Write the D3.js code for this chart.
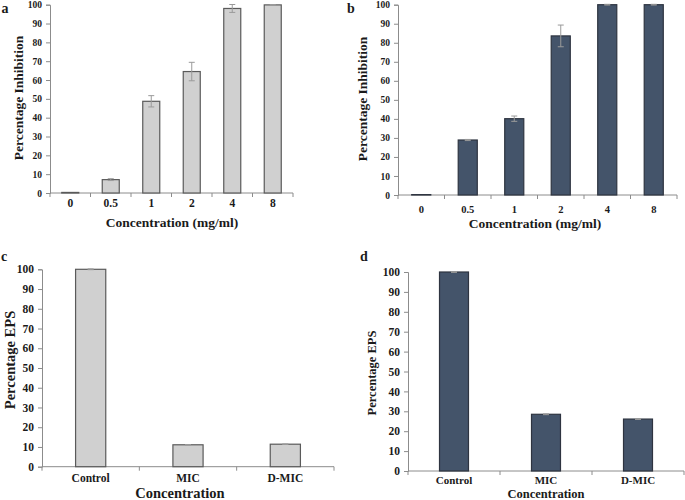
<!DOCTYPE html>
<html>
<head>
<meta charset="utf-8">
<script src="https://cdnjs.cloudflare.com/ajax/libs/d3/7.8.5/d3.min.js"></script>
<style>
  body { margin: 0; background: #fff; }
  text { font-family: "Liberation Serif", "Times New Roman", serif; font-weight: bold; fill: #1a1a1a; }
</style>
</head>
<body>
<div id="chart"></div>
<script>
// data
var concLabels = ["0", "0.5", "1", "2", "4", "8"];
var inhibA = [0.3, 7.1, 48.7, 64.5, 98, 99.9];
var inhibAErr = [0, 0.5, 3, 4.9, 2.1, 0.2];
var inhibB = [0.2, 28.9, 40.1, 83.6, 100, 100];
var inhibBErr = [0, 0.3, 1.4, 5.7, 0.2, 0.2];

var epsLabels = ["Control", "MIC", "D-MIC"];
var epsC = [100, 11.1, 11.4];
var epsCErr = [0.2, 0.1, 0.1];
var epsD = [100, 28.5, 26.1];
var epsDErr = [0.2, 0.2, 0.2];

var yTicks = [0, 10, 20, 30, 40, 50, 60, 70, 80, 90, 100];

var lightFill = "#d0d0d0", lightStroke = "#5a5a5a";
var darkFill = "#44546a", darkStroke = "#2e3440";
var axisColor = "#8c8c8c", errColor = "#9a9a9a";

var svg = d3.select("#chart").append("svg")
    .attr("width", 685)
    .attr("height", 500);

function drawPanel(p) {
  var g = svg.append("g");

  var x = d3.scaleBand()
      .domain(p.cats)
      .range([p.x0, p.x1])
      .paddingInner(p.pad)
      .paddingOuter(p.pad / 2);

  var y = d3.scaleLinear()
      .domain([0, 100])
      .range([p.y0, p.y1]);

  // y axis
  var yAxis = d3.axisLeft(y).tickValues(yTicks).tickSize(4).tickPadding(4);
  var ya = g.append("g")
      .attr("transform", "translate(" + p.x0 + ",0)")
      .call(yAxis);
  ya.select(".domain").attr("stroke", axisColor);
  ya.selectAll(".tick line").attr("stroke", axisColor);
  ya.selectAll(".tick text")
      .style("font-size", p.tickFont + "px")
      .attr("fill", "#1a1a1a");

  // x axis line + ticks at the category boundaries
  g.append("line")
      .attr("x1", p.x0).attr("x2", p.x1)
      .attr("y1", p.y0).attr("y2", p.y0)
      .attr("stroke", axisColor);
  var bounds = d3.range(p.cats.length + 1).map(function(i) { return p.x0 + i * x.step(); });
  g.selectAll(".btick")
      .data(bounds)
      .enter().append("line")
      .attr("x1", d => d).attr("x2", d => d)
      .attr("y1", p.y0).attr("y2", p.y0 + 4)
      .attr("stroke", axisColor);

  g.selectAll(".xlab")
      .data(p.cats)
      .enter().append("text")
      .attr("x", d => x(d) + x.bandwidth() / 2)
      .attr("y", p.xLabY)
      .attr("dy", "0.35em")
      .attr("text-anchor", "middle")
      .style("font-size", p.xTickFont + "px")
      .text(d => d);

  // bars
  g.selectAll(".bar")
      .data(p.vals)
      .enter().append("rect")
      .attr("x", (d, i) => x(p.cats[i]))
      .attr("width", x.bandwidth())
      .attr("y", d => y(d))
      .attr("height", d => p.y0 - y(d))
      .attr("fill", p.fill)
      .attr("stroke", p.stroke)
      .attr("stroke-width", 1.2);

  // error bars
  var eb = g.selectAll(".err")
      .data(p.vals)
      .enter().append("g")
      .style("display", (d, i) => p.errs[i] > 0 ? null : "none");
  eb.append("line")
      .attr("x1", (d, i) => x(p.cats[i]) + x.bandwidth() / 2)
      .attr("x2", (d, i) => x(p.cats[i]) + x.bandwidth() / 2)
      .attr("y1", (d, i) => y(d - p.errs[i]))
      .attr("y2", (d, i) => y(d + p.errs[i]))
      .attr("stroke", errColor);
  ["-", "+"].forEach(function(s) {
    eb.append("line")
        .attr("x1", (d, i) => x(p.cats[i]) + x.bandwidth() / 2 - 3)
        .attr("x2", (d, i) => x(p.cats[i]) + x.bandwidth() / 2 + 3)
        .attr("y1", (d, i) => y(s == "-" ? d - p.errs[i] : d + p.errs[i]))
        .attr("y2", (d, i) => y(s == "-" ? d - p.errs[i] : d + p.errs[i]))
        .attr("stroke", errColor);
  });

  // titles
  g.append("text")
      .attr("x", p.xTitleX)
      .attr("y", p.xTitleY)
      .attr("dy", "0.35em")
      .attr("text-anchor", "middle")
      .style("font-size", p.titleFont + "px")
      .text(p.xTitle);

  g.append("text")
      .attr("transform", "translate(" + p.yTitleX + "," + p.yTitleY + ") rotate(-90)")
      .attr("dy", "0.35em")
      .attr("text-anchor", "middle")
      .style("font-size", p.titleFont + "px")
      .text(p.yTitle);

  g.append("text")
      .attr("x", p.letterX)
      .attr("y", p.letterY)
      .attr("dy", "0.35em")
      .attr("text-anchor", "middle")
      .style("font-size", "14px")
      .text(p.letter);
}

drawPanel({
  cats: concLabels, vals: inhibA, errs: inhibAErr, fill: lightFill, stroke: lightStroke,
  x0: 50, x1: 293, y0: 193, y1: 4.7, pad: 0.58,
  tickFont: 9.5, xTickFont: 11.5, xLabY: 203, titleFont: 13.5,
  xTitle: "Concentration (mg/ml)", xTitleX: 172, xTitleY: 222,
  yTitle: "Percentage Inhibition", yTitleX: 18, yTitleY: 98,
  letter: "a", letterX: 5, letterY: 8
});

drawPanel({
  cats: concLabels, vals: inhibB, errs: inhibBErr, fill: darkFill, stroke: darkStroke,
  x0: 398, x1: 677, y0: 195, y1: 4.7, pad: 0.59,
  tickFont: 9.5, xTickFont: 10.5, xLabY: 209, titleFont: 13.5,
  xTitle: "Concentration (mg/ml)", xTitleX: 535, xTitleY: 223,
  yTitle: "Percentage Inhibition", yTitleX: 362, yTitleY: 99,
  letter: "b", letterX: 351, letterY: 8
});

drawPanel({
  cats: epsLabels, vals: epsC, errs: epsCErr, fill: lightFill, stroke: lightStroke,
  x0: 42, x1: 334, y0: 466.7, y1: 269.3, pad: 0.69,
  tickFont: 11.5, xTickFont: 11.5, xLabY: 478, titleFont: 14.5,
  xTitle: "Concentration", xTitleX: 180, xTitleY: 493,
  yTitle: "Percentage EPS", yTitleX: 10, yTitleY: 360,
  letter: "c", letterX: 4, letterY: 256
});

drawPanel({
  cats: epsLabels, vals: epsD, errs: epsDErr, fill: darkFill, stroke: darkStroke,
  x0: 408, x1: 684, y0: 471, y1: 272, pad: 0.685,
  tickFont: 11.5, xTickFont: 11, xLabY: 480, titleFont: 12.5,
  xTitle: "Concentration", xTitleX: 546, xTitleY: 494,
  yTitle: "Percentage EPS", yTitleX: 372, yTitleY: 373,
  letter: "d", letterX: 364, letterY: 256
});
</script>
</body>
</html>
